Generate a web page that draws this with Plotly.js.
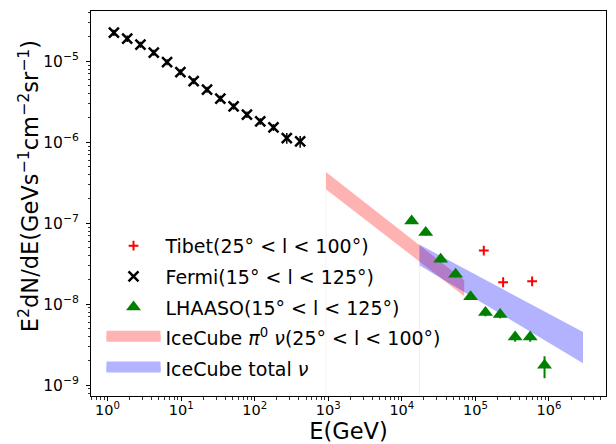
<!DOCTYPE html>
<html>
<head>
<meta charset="utf-8">
<script src="https://cdn.plot.ly/plotly-3.0.1.min.js"></script>
<style>
  html, body { margin: 0; padding: 0; background: #fff; }
  #chart { width: 616px; height: 444px; }
</style>
</head>
<body>
<div id="chart"></div>
<script>
// Fermi-LAT diffuse emission, 15° < l < 125°  (E in GeV, E^2 dN/dE)
const fermiE    = [1.22, 1.85, 2.80, 4.25, 6.44, 9.77, 14.8, 22.5, 34.1, 51.7, 78.4, 119, 180, 273, 415];
const fermiFlux = [2.26e-5, 1.91e-5, 1.61e-5, 1.28e-5, 9.8e-6, 7.38e-6, 5.71e-6, 4.48e-6, 3.47e-6,
                   2.78e-6, 2.20e-6, 1.82e-6, 1.53e-6, 1.13e-6, 1.03e-6];
const fermiErr  = [2.0e-6, 1.7e-6, 1.4e-6, 1.1e-6, 8.5e-7, 6.4e-7, 5.0e-7, 3.9e-7, 3.1e-7,
                   2.5e-7, 2.0e-7, 1.7e-7, 1.5e-7, 1.7e-7, 1.7e-7];

// LHAASO KM2A diffuse emission, 15° < l < 125°
const lhaasoE        = [1.36e4, 2.11e4, 3.37e4, 5.38e4, 8.61e4, 1.37e5, 2.17e5, 3.47e5, 5.55e5, 8.70e5];
const lhaasoFlux     = [1.07e-7, 7.67e-8, 3.60e-8, 2.35e-8, 1.24e-8, 7.9e-9, 7.5e-9, 3.95e-9, 3.95e-9, 1.77e-9];
const lhaasoErrUp    = [8e-9, 6e-9, 3e-9, 2e-9, 1.1e-9, 8e-10, 8e-10, 5e-10, 5e-10, 5.1e-10];
const lhaasoErrDown  = [8e-9, 6e-9, 3e-9, 2e-9, 1.1e-9, 8e-10, 8e-10, 5e-10, 5e-10, 5.5e-10];

// Tibet ASγ diffuse emission, 25° < l < 100°
const tibetE    = [1.30e5, 2.38e5, 5.90e5];
const tibetFlux = [4.6e-8, 1.87e-8, 1.92e-8];

// IceCube neutrino bands (E, upper edge, lower edge)
const pi0E     = [930, 7.05e4];
const pi0Upper = [4.30e-7, 1.98e-8];
const pi0Lower = [2.63e-7, 1.26e-8];

const totalE     = [1.73e4, 2.90e6];
const totalUpper = [5.46e-8, 4.55e-9];
const totalLower = [3.03e-8, 1.87e-9];

// legend labels
const labelTibet  = 'Tibet(25° &lt; l &lt; 100°)';
const labelFermi  = 'Fermi(15° &lt; l &lt; 125°)';
const labelLhaaso = 'LHAASO(15° &lt; l &lt; 125°)';
const labelPi0    = 'IceCube <i>π</i><sup>0</sup> <i>ν</i>(25° &lt; l &lt; 100°)';
const labelTotal  = 'IceCube total <i>ν</i>';

// axis ticks
const xTickVals = [1, 10, 100, 1e3, 1e4, 1e5, 1e6];
const xTickText = ['10<sup>0</sup>', '10<sup>1</sup>', '10<sup>2</sup>', '10<sup>3</sup>',
                   '10<sup>4</sup>', '10<sup>5</sup>', '10<sup>6</sup>'];
const yTickVals = [1e-9, 1e-8, 1e-7, 1e-6, 1e-5];
const yTickText = ['10<sup>−9</sup>', '10<sup>−8</sup>', '10<sup>−7</sup>', '10<sup>−6</sup>', '10<sup>−5</sup>'];

function minorTicks(pLo, pHi) {
  const v = [];
  for (let p = pLo; p <= pHi; p++) for (let m = 2; m <= 9; m++) v.push(m * Math.pow(10, p));
  return v;
}

// closed polygon: upper edge left->right, lower edge right->left
function band(E, up, lo) {
  return { x: E.concat(E.slice().reverse()), y: up.concat(lo.slice().reverse()) };
}

const pi0Band = band(pi0E, pi0Upper, pi0Lower);
const totalBand = band(totalE, totalUpper, totalLower);

const PINK = 'rgba(255,0,0,0.3)', LAVENDER = 'rgba(0,0,255,0.3)';

const traces = [
  // faint edge strokes left by the filled bands
  { x: [pi0E[0], pi0E[0]], y: [pi0Lower[0], 1e-12], mode: 'lines',
    line: { color: 'rgba(255,0,0,0.07)', width: 1 }, showlegend: false, hoverinfo: 'skip' },
  { x: [totalE[0], totalE[0]], y: [totalLower[0], 1e-12], mode: 'lines',
    line: { color: 'rgba(0,0,255,0.07)', width: 1 }, showlegend: false, hoverinfo: 'skip' },
  // neutrino bands
  { x: pi0Band.x, y: pi0Band.y, mode: 'lines', fill: 'toself', fillcolor: PINK,
    line: { width: 0, color: 'rgba(0,0,0,0)' }, showlegend: false, hoverinfo: 'skip' },
  { x: totalBand.x, y: totalBand.y, mode: 'lines', fill: 'toself', fillcolor: LAVENDER,
    line: { width: 0, color: 'rgba(0,0,0,0)' }, showlegend: false, hoverinfo: 'skip' },
  // legend swatches for the bands (no data of their own)
  { x: [null], y: [null], mode: 'lines', fill: 'toself', fillcolor: '#ffb3b3',
    line: { color: '#ffb3b3', width: 10 }, name: labelPi0, legendgroup: 'g4', legendrank: 4 },
  { x: [null], y: [null], mode: 'lines', fill: 'toself', fillcolor: '#b3b3ff',
    line: { color: '#b3b3ff', width: 10 }, name: labelTotal, legendgroup: 'g5', legendrank: 5 },
  // measurements
  { x: tibetE, y: tibetFlux, mode: 'markers', name: labelTibet,
    marker: { symbol: 'cross-thin', size: 7, color: 'red', line: { color: 'red', width: 2 } },
    legendgroup: 'g1', legendrank: 1 },
  { x: fermiE, y: fermiFlux, mode: 'markers', name: labelFermi,
    marker: { symbol: 'x-thin', size: 10, color: 'black', line: { color: 'black', width: 2.5 } },
    error_y: { type: 'data', array: fermiErr, visible: true, color: 'black', thickness: 1.5, width: 0 },
    legendgroup: 'g2', legendrank: 2 },
  { x: lhaasoE, y: lhaasoFlux, mode: 'markers', name: labelLhaaso,
    marker: { symbol: 'triangle-up', size: 13, color: 'green', line: { width: 0 } },
    error_y: { type: 'data', array: lhaasoErrUp, arrayminus: lhaasoErrDown, visible: true,
               color: 'green', thickness: 2, width: 0 },
    legendgroup: 'g3', legendrank: 3 }
];

const axisCommon = {
  type: 'log', autorange: false, showgrid: false, zeroline: false,
  showline: true, linecolor: '#000', linewidth: 1, mirror: true,
  ticks: 'outside', ticklen: 4, tickwidth: 1, tickcolor: '#000', tickmode: 'array'
};

const layout = {
  width: 616, height: 444,
  margin: { l: 91, r: 10, t: 11, b: 48, pad: 0 },
  paper_bgcolor: '#fff', plot_bgcolor: '#fff',
  font: { family: 'DejaVu Sans', color: '#000' },
  showlegend: true,
  xaxis: Object.assign({}, axisCommon, {
    range: [-0.225, 6.775], tickvals: xTickVals, ticktext: xTickText,
    tickfont: { family: 'DejaVu Sans', size: 14.5, color: '#000' },
    ticklabelstandoff: -3,
    minor: { tickmode: 'array', tickvals: minorTicks(-1, 6), ticks: 'outside', ticklen: 2.5,
             tickwidth: 0.8, tickcolor: '#000', showgrid: false },
    title: { text: 'E(GeV)', font: { family: 'DejaVu Sans', size: 22.5 }, standoff: 0 }
  }),
  yaxis: Object.assign({}, axisCommon, {
    range: [-9.133, -4.378], tickvals: yTickVals, ticktext: yTickText,
    tickfont: { family: 'DejaVu Sans', size: 15.5, color: '#000' },
    ticklabelstandoff: 4,
    minor: { tickmode: 'array', tickvals: minorTicks(-10, -5), ticks: 'outside', ticklen: 2.5,
             tickwidth: 0.8, tickcolor: '#000', showgrid: false }
  }),
  annotations: [{
    text: 'E<sup>2</sup>dN/dE(GeVs<sup>−1</sup>cm<sup>−2</sup>sr<sup>−1</sup>)',
    xref: 'paper', yref: 'paper', x: -0.1223, y: 0.545, xanchor: 'center', yanchor: 'middle',
    textangle: -90, showarrow: false, font: { family: 'DejaVu Sans', size: 22.5, color: '#000' }
  }],
  legend: {
    x: 0.0204, y: 0.4394, xanchor: 'left', yanchor: 'top',
    bgcolor: 'rgba(0,0,0,0)', borderwidth: 0,
    font: { family: 'DejaVu Sans', size: 19, color: '#000' },
    itemwidth: 54, tracegroupgap: 3, traceorder: 'grouped'
  }
};

Plotly.newPlot('chart', traces, layout, { displayModeBar: false, staticPlot: true });
</script>
</body>
</html>
